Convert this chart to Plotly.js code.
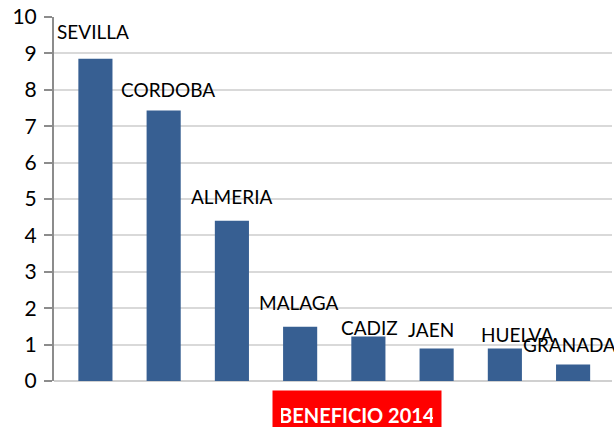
<!DOCTYPE html>
<html>
<head>
<meta charset="utf-8">
<script src="https://cdn.plot.ly/plotly-3.0.1.min.js"></script>
<style>html,body{margin:0;padding:0;background:#fff;}#chart{width:614px;height:427px;}</style>
</head>
<body>
<div id="chart"></div>
<script>
// Data
const provinces = ["SEVILLA", "CORDOBA", "ALMERIA", "MALAGA", "CADIZ", "JAEN", "HUELVA", "GRANADA"];
const beneficio = [8.85, 7.43, 4.40, 1.49, 1.22, 0.89, 0.89, 0.45];
const yTicks = [0, 1, 2, 3, 4, 5, 6, 7, 8, 9, 10];
const chartTitle = "BENEFICIO 2014";

// Label placement (pixel offsets from bar top), style only
const labelShiftX = [-2, 4, 0, -1, 1, -6, 12, -4];
const labelShiftY = [27, 21, 24, 24, 9, 19, 14, 20];

const xIdx = provinces.map((_, i) => i);

const trace = {
  type: "bar",
  x: xIdx,
  y: beneficio,
  marker: {color: "#375F92"},
  width: 0.5,
  hoverinfo: "skip"
};

const labelAnnotations = provinces.map((p, i) => ({
  x: i, y: beneficio[i], xref: "x", yref: "y",
  text: p, showarrow: false,
  xshift: labelShiftX[i], yshift: labelShiftY[i],
  font: {family: "Lato, 'Open Sans', sans-serif", size: 19, color: "#000"}
}));

const titleAnnotation = {
  xref: "paper", yref: "paper",
  x: (357 - 54) / 558, y: 0,
  yshift: -34,
  xanchor: "center", yanchor: "middle",
  text: "<b>" + chartTitle + "</b>",
  showarrow: false,
  bgcolor: "#FF0000",
  borderpad: 8,
  width: 152, height: 32,
  font: {family: "Lato, 'Open Sans', sans-serif", size: 20, color: "#FFFFFF"}
};

const layout = {
  width: 614, height: 427,
  margin: {l: 54, r: 2, t: 17, b: 46},
  paper_bgcolor: "#fff", plot_bgcolor: "#fff",
  showlegend: false,
  xaxis: {
    range: [-0.607, 7.57],
    showticklabels: false, ticks: "",
    showgrid: false, zeroline: false,
    showline: false, fixedrange: true
  },
  yaxis: {
    range: [0, 10],
    tickvals: yTicks, ticktext: yTicks.map(String),
    ticks: "outside", ticklen: 8, tickwidth: 2, tickcolor: "#8C8C8C",
    showline: true, linecolor: "#8C8C8C", linewidth: 2,
    showgrid: true, gridcolor: "#D9D9D9", gridwidth: 2,
    zeroline: true, zerolinecolor: "#D0D0D0", zerolinewidth: 2,
    tickfont: {family: "Lato, 'Open Sans', sans-serif", size: 21, color: "#000"},
    ticklabelstandoff: 3,
    fixedrange: true
  },
  annotations: labelAnnotations.concat([titleAnnotation])
};

Plotly.newPlot("chart", [trace], layout, {displayModeBar: false, staticPlot: true});
</script>
</body>
</html>
